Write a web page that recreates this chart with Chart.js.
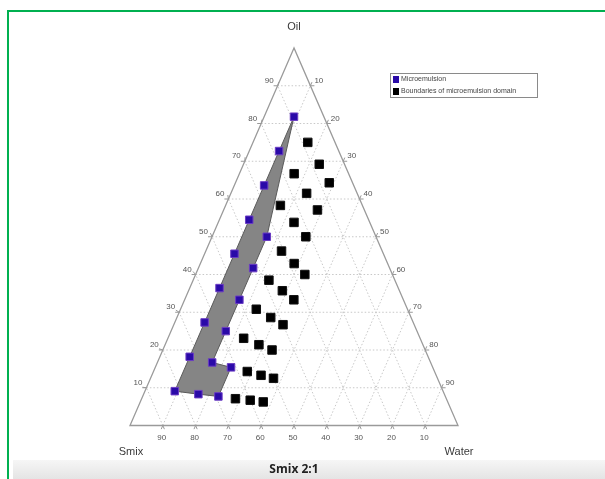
<!DOCTYPE html>
<html>
<head>
<meta charset="utf-8">
<script src="https://cdn.jsdelivr.net/npm/chart.js@4.4.1/dist/chart.umd.min.js"></script>
<style>
  body { margin: 0; background: #fff; }
  #wrap { position: relative; width: 605px; height: 479px; overflow: hidden; }
  .green-top { position: absolute; left: 7px; top: 10px; width: 598px; height: 2px; background: #00b050; }
  .green-left { position: absolute; left: 7px; top: 10px; width: 2px; height: 469px; background: #00b050; }
  .band { position: absolute; left: 13px; top: 460px; width: 592px; height: 19px;
          background: linear-gradient(#f6f6f6, #e4e4e4); }
  canvas { position: absolute; left: 0; top: 0; }
</style>
</head>
<body>
<div id="wrap">
  <div class="green-top"></div>
  <div class="green-left"></div>
  <div class="band"></div>
  <canvas id="ternaryChart" width="605" height="479"></canvas>
</div>
<script>
// ternary composition in %, oil and water given, smix = rest
const gridTicks = [10, 20, 30, 40, 50, 60, 70, 80, 90];

const microOil   = [81.8, 72.7, 63.6, 54.5, 45.5, 36.4, 27.3, 18.2, 9.1, 8.3, 7.7, 15.4, 16.7, 25.0, 33.3, 41.7, 50.0];
const microWater = [9.1, 9.1, 9.1, 9.1, 9.1, 9.1, 9.1, 9.1, 9.1, 16.7, 23.1, 23.1, 16.7, 16.7, 16.7, 16.7, 16.7];

const boundOil   = [75.0, 69.2, 64.3, 66.7, 61.5, 57.1, 58.3, 53.8, 50.0, 46.2, 42.9, 40.0, 38.5, 35.7, 33.3,
                    30.8, 28.6, 26.7, 23.1, 21.4, 20.0, 14.3, 13.3, 12.5, 7.1, 6.7, 6.25];
const boundWater = [16.7, 23.1, 28.6, 16.7, 23.1, 28.6, 16.7, 23.1, 28.6, 23.1, 28.6, 33.3, 23.1, 28.6, 33.3,
                    23.1, 28.6, 33.3, 23.1, 28.6, 33.3, 28.6, 33.3, 37.5, 28.6, 33.3, 37.5];

// outline of the shaded microemulsion region (indexes into micro arrays)
const regionOrder = [0, 1, 2, 3, 4, 5, 6, 7, 8, 9, 10, 11, 12, 13, 14, 15, 16, 0];

function toXY(oil, water) {
    return { x: water + oil / 2, y: oil };
}

const microPoints = microOil.map((o, i) => toXY(o, microWater[i]));
const boundPoints = boundOil.map((o, i) => toXY(o, boundWater[i]));
const regionPoints = regionOrder.map(i => toXY(microOil[i], microWater[i]));

const LABEL_FONT = '8px "Liberation Sans Narrow", "Liberation Sans", Arial, sans-serif';

const ternaryPlugin = {
    id: 'ternaryGrid',
    beforeDatasetsDraw(chart) {
        const ctx = chart.ctx;
        const sx = chart.scales.x, sy = chart.scales.y;
        const P = (oil, water) => {
            const p = toXY(oil, water);
            return [sx.getPixelForValue(p.x), sy.getPixelForValue(p.y)];
        };
        ctx.save();

        // dotted grid
        ctx.strokeStyle = '#c8c8c8';
        ctx.lineWidth = 1;
        ctx.setLineDash([1.5, 2]);
        gridTicks.forEach(v => {
            const lines = [
                [P(v, 0), P(v, 100 - v)],          // oil const
                [P(0, v), P(100 - v, v)],          // water const
                [P(0, 100 - v), P(100 - v, 0)]     // smix const
            ];
            lines.forEach(([a, b]) => {
                ctx.beginPath();
                ctx.moveTo(a[0], a[1]);
                ctx.lineTo(b[0], b[1]);
                ctx.stroke();
            });
        });
        ctx.setLineDash([]);

        // small tick marks outside the edges
        ctx.strokeStyle = '#999';
        ctx.lineWidth = 1;
        const tick = (from, to) => {
            const dx = from[0] - to[0], dy = from[1] - to[1];
            const len = Math.hypot(dx, dy);
            ctx.beginPath();
            ctx.moveTo(from[0], from[1]);
            ctx.lineTo(from[0] + dx / len * 4, from[1] + dy / len * 4);
            ctx.stroke();
        };
        gridTicks.forEach(v => {
            tick(P(v, 0), P(v, 100 - v));
            tick(P(v, 0), P(0, 100 - v));
            tick(P(100 - v, v), P(0, v));
            tick(P(100 - v, v), P(100 - v, 0));
            tick(P(0, 100 - v), P(100 - v, 0));
            tick(P(0, 100 - v), P(v, 100 - v));
        });

        // triangle
        const A = P(100, 0), L = P(0, 0), R = P(0, 100);
        ctx.strokeStyle = '#9a9a9a';
        ctx.lineWidth = 1.3;
        ctx.beginPath();
        ctx.moveTo(A[0], A[1]);
        ctx.lineTo(L[0], L[1]);
        ctx.lineTo(R[0], R[1]);
        ctx.closePath();
        ctx.stroke();

        // tick labels
        ctx.fillStyle = '#555';
        ctx.font = LABEL_FONT;
        ctx.textBaseline = 'middle';
        gridTicks.forEach(v => {
            const l = P(v, 0);
            ctx.textAlign = 'right';
            ctx.fillText(String(v), l[0] - 4, l[1] - 5);
            const r = P(100 - v, v);
            ctx.textAlign = 'left';
            ctx.fillText(String(v), r[0] + 4, r[1] - 5);
            const b = P(0, 100 - v);
            ctx.textAlign = 'center';
            ctx.fillText(String(v), b[0] - 1, b[1] + 12);
        });

        // corner titles
        ctx.fillStyle = '#3a3a3a';
        ctx.font = '11px "Liberation Sans Narrow", "Liberation Sans", Arial, sans-serif';
        ctx.textAlign = 'center';
        ctx.fillText('Oil', A[0], 27);
        ctx.fillText('Smix', 131, 452);
        ctx.fillText('Water', 459, 452);
        ctx.restore();
    },
    afterDraw(chart) {
        const ctx = chart.ctx;
        ctx.save();
        // legend box
        ctx.fillStyle = '#fff';
        ctx.fillRect(390, 73, 147, 24);
        ctx.strokeStyle = '#8a8a8a';
        ctx.lineWidth = 1;
        ctx.strokeRect(390.5, 73.5, 147, 24);
        ctx.fillStyle = '#2a0aa8';
        ctx.fillRect(393, 76, 6, 7);
        ctx.fillStyle = '#000';
        ctx.fillRect(393, 88, 6, 7);
        ctx.fillStyle = '#444';
        ctx.font = '7px "Liberation Sans", Arial, sans-serif';
        ctx.textAlign = 'left';
        ctx.textBaseline = 'middle';
        ctx.fillText('Microemulsion', 401, 79.5);
        ctx.fillText('Boundaries of microemulsion domain', 401, 91.5);

        // bottom caption
        ctx.fillStyle = '#222';
        ctx.font = 'bold 12px "Open Sans", "Liberation Sans", Arial, sans-serif';
        ctx.textAlign = 'center';
        ctx.fillText('Smix 2:1', 294, 470);
        ctx.restore();
    }
};

function initTernaryChart() {
    const ctx = document.getElementById('ternaryChart');
    if (!ctx) return;

    const chart = new Chart(ctx, {
        type: 'scatter',
        data: {
            datasets: [{
                label: 'Microemulsion',
                data: microPoints,
                pointStyle: 'rect',
                pointRadius: 5.3,
                backgroundColor: '#2a0aa8',
                borderColor: '#6b3cc4',
                borderWidth: 1,
                order: 0
            }, {
                label: 'Boundaries of microemulsion domain',
                data: boundPoints,
                pointStyle: 'rect',
                pointRadius: 6,
                backgroundColor: '#000000',
                borderColor: '#111111',
                borderWidth: 1,
                order: 1
            }, {
                label: 'region',
                data: regionPoints,
                showLine: true,
                fill: 'shape',
                backgroundColor: '#858585',
                borderColor: '#5a5a5a',
                borderWidth: 1,
                pointRadius: 0,
                tension: 0,
                order: 2
            }]
        },
        options: {
            responsive: false,
            animation: false,
            layout: {
                padding: { left: 130, right: 147, top: 48, bottom: 53.5 }
            },
            plugins: {
                legend: { display: false },
                tooltip: { enabled: false }
            },
            scales: {
                x: { type: 'linear', min: 0, max: 100, display: false },
                y: { type: 'linear', min: 0, max: 100, display: false }
            }
        },
        plugins: [ternaryPlugin]
    });

    window.ternaryChart = chart;
}

document.addEventListener('DOMContentLoaded', function() {
    initTernaryChart();
});
</script>
</body>
</html>
